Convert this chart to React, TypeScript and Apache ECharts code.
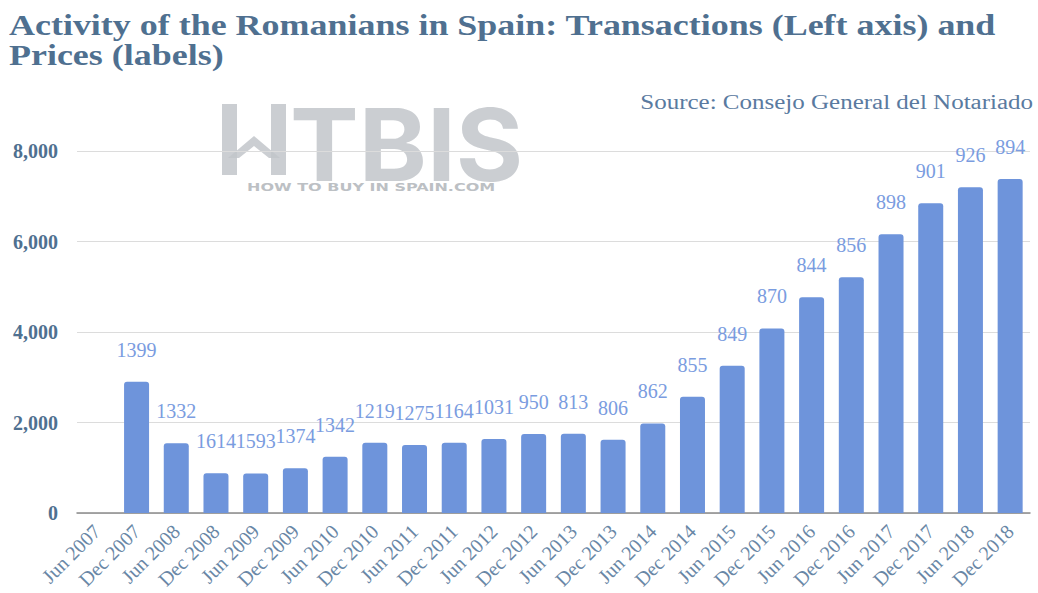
import React, { useEffect, useRef } from "react";
import * as echarts from "echarts";

const categories = [
  "Jun 2007", "Dec 2007", "Jun 2008", "Dec 2008", "Jun 2009", "Dec 2009",
  "Jun 2010", "Dec 2010", "Jun 2011", "Dec 2011", "Jun 2012", "Dec 2012",
  "Jun 2013", "Dec 2013", "Jun 2014", "Dec 2014", "Jun 2015", "Dec 2015",
  "Jun 2016", "Dec 2016", "Jun 2017", "Dec 2017", "Jun 2018", "Dec 2018",
];

const transactions: (number | null)[] = [
  null, 2900, 1540, 880, 875, 990, 1245, 1555, 1505, 1555, 1635, 1745,
  1750, 1620, 1980, 2570, 3255, 4080, 4770, 5210, 6160, 6845, 7200, 7380,
];

const prices: (number | null)[] = [
  null, 1399, 1332, 1614, 1593, 1374, 1342, 1219, 1275, 1164, 1031, 950,
  813, 806, 862, 855, 849, 870, 844, 856, 898, 901, 926, 894,
];

const yTicks = [0, 2000, 4000, 6000, 8000];

const TITLE = "Activity of the Romanians in Spain: Transactions (Left axis) and\nPrices (labels)";
const SOURCE = "Source: Consejo General del Notariado";
const SERIF = "'Liberation Serif', 'Times New Roman', serif";
const SLATE = "#4f7090";
const WM = "#c2c6ca";

export default function App() {
  const ref = useRef<HTMLDivElement>(null);
  useEffect(() => {
    if (!ref.current) return;
    const chart = echarts.init(ref.current, null, { renderer: "svg" });
    chart.setOption({
      animation: false,
      backgroundColor: "#ffffff",
      graphic: [
        {
          type: "group",
          z: -1,
          children: [
            { type: "rect", shape: { x: 222, y: 104, width: 15, height: 71 }, style: { fill: WM, opacity: 0.85 } },
            { type: "rect", shape: { x: 271, y: 104, width: 15, height: 71 }, style: { fill: WM, opacity: 0.85 } },
            {
              type: "polygon",
              shape: {
                points: [
                  [228, 158], [254, 136], [280, 158], [269, 158], [254, 146], [239, 158],
                ],
              },
              style: { fill: WM, opacity: 0.85 },
            },
            {
              type: "text",
              x: 290,
              y: 95,
              scaleX: 1.03,
              style: {
                text: "TBIS",
                fontFamily: "Inter, 'DejaVu Sans', sans-serif",
                fontWeight: "bold",
                fontSize: 100,
                fill: WM,
                opacity: 0.85,
              },
            },
            {
              type: "text",
              x: 247,
              y: 183,
              scaleX: 1.6,
              style: {
                text: "HOW TO BUY IN SPAIN.COM",
                fontFamily: "'DejaVu Sans', sans-serif",
                fontWeight: "bold",
                fontSize: 10,
                fill: "#bcc0c4",
              },
            },
          ],
        },
        {
          type: "text",
          x: 9,
          y: 10,
          scaleX: 1.24,
          style: {
            text: TITLE,
            fontFamily: SERIF,
            fontWeight: "bold",
            fontSize: 29,
            lineHeight: 30,
            fill: SLATE,
            align: "left",
            verticalAlign: "top",
          },
        },
        {
          type: "text",
          x: 1033,
          y: 92,
          scaleX: 1.25,
          style: {
            text: SOURCE,
            fontFamily: SERIF,
            fontSize: 20,
            fill: "#5a7aa0",
            align: "right",
            verticalAlign: "top",
          },
        },
      ],
      grid: { left: 77, right: 8, top: 151, bottom: 80 },
      xAxis: {
        type: "category",
        data: categories,
        axisTick: { show: false },
        axisLine: { lineStyle: { color: "#8a8a8a", width: 1.5 } },
        axisLabel: {
          rotate: 45,
          interval: 0,
          margin: 15,
          fontFamily: SERIF,
          fontSize: 20,
          color: "#6987a6",
        },
      },
      yAxis: {
        type: "value",
        min: 0,
        max: 8000,
        interval: 2000,
        axisLine: { show: false },
        axisTick: { show: false },
        splitLine: { lineStyle: { color: "#dcdcdc", width: 1 } },
        axisLabel: {
          margin: 19,
          fontFamily: SERIF,
          fontWeight: "bold",
          fontSize: 20,
          color: SLATE,
          formatter: (v: number) =>
            yTicks.includes(v) ? v.toLocaleString("en-US") : "",
        },
      },
      series: [
        {
          type: "bar",
          data: transactions.map((v) => (v === null ? "-" : v)),
          barWidth: 25,
          itemStyle: { color: "#6e94db", borderRadius: [3, 3, 0, 0] },
          label: {
            show: true,
            position: "top",
            distance: 22,
            fontFamily: SERIF,
            fontSize: 20,
            color: "#7a9ce0",
            formatter: (p: any) => {
              const v = prices[p.dataIndex];
              return v === null ? "" : String(v);
            },
          },
        },
      ],
    });
    return () => chart.dispose();
  }, []);
  return (
    <div
      ref={ref}
      style={{ position: "fixed", left: 0, top: 0, width: 1038, height: 593 }}
    />
  );
}
